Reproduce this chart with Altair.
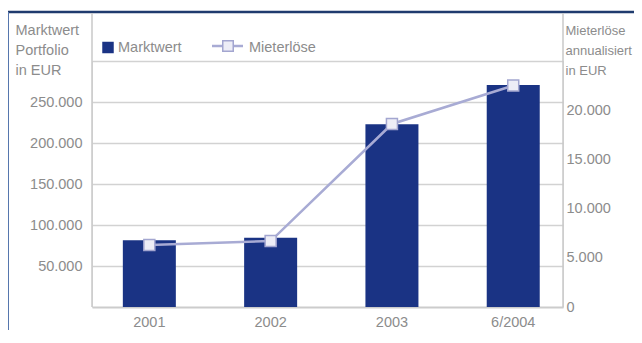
import altair as alt
import pandas as pd

categories = ["2001", "2002", "2003", "6/2004"]
marktwert = [81500, 84500, 223000, 270600]
mieterloese = [6300, 6700, 18600, 22500]
series_names = ["Marktwert", "Mieterlöse"]
left_ticks = [50000, 100000, 150000, 200000, 250000, 300000]
right_ticks = [0, 5000, 10000, 15000, 20000]
left_title = ["Marktwert", "Portfolio", "in EUR"]
right_title = ["Mieterlöse", "annualisiert", "in EUR"]

df = pd.DataFrame({"Jahr": categories, "Marktwert": marktwert, "Mieterloese": mieterloese})

FONT = "Liberation Sans"
GRAY = "#8c8c8c"
FS = 14.5
BAR = "#1a3384"
LINE = "#a8abd4"
W, H = 471, 246

xscale = alt.Scale(domain=categories, paddingInner=0.563, paddingOuter=0.223, align=0.57)
xenc = alt.X("Jahr:N", sort=categories, title=None, scale=xscale,
             axis=alt.Axis(labelAngle=0, ticks=False, domainColor="#cccccc", domainWidth=2,
                           labelPadding=8, labelColor=GRAY, labelFontSize=FS, labelFont=FONT,
                           grid=False))

lab = "replace(format(datum.value, ','), ',', '.')"

bars = alt.Chart(df).mark_bar(color=BAR).encode(
    x=xenc,
    y=alt.Y("Marktwert:Q", scale=alt.Scale(domain=[0, 300000], nice=False),
            axis=alt.Axis(values=left_ticks, title=left_title, titleAngle=0, titleAlign="left",
                          titleBaseline="top", titleX=-77, titleY=-38, titleLineHeight=20,
                          titleFont=FONT, titleFontSize=FS, titleFontWeight="normal", titleColor=GRAY,
                          labelExpr="datum.value >= 300000 ? '' : " + lab,
                          labelColor=GRAY, labelFontSize=FS, labelFont=FONT, labelPadding=10,
                          ticks=False, domain=False, gridColor="#d2d2d2", gridWidth=1.5)),
)

yright = alt.Y("Mieterloese:Q", scale=alt.Scale(domain=[0, 25000], nice=False),
               axis=alt.Axis(orient="right", values=right_ticks, title=right_title, titleAngle=0,
                             titleAlign="left", titleBaseline="top", titleX=2, titleY=-37,
                             titleLineHeight=20, titleFont=FONT, titleFontSize=13,
                             titleFontWeight="normal", titleColor=GRAY,
                             labelExpr=lab, labelColor=GRAY, labelFontSize=FS, labelFont=FONT,
                             labelPadding=3, ticks=False, domain=False,
                             gridColor="#f3f3f3", gridWidth=1.5))

line = alt.Chart(df).mark_line(color=LINE, strokeWidth=2.5).encode(
    x=alt.X("Jahr:N", sort=categories, scale=xscale), y=yright)
points = alt.Chart(df).mark_point(shape="square", filled=True, size=121, fill="#ededf6",
                                  stroke="#a3a6d0", strokeWidth=1.5, opacity=1).encode(
    x=alt.X("Jahr:N", sort=categories, scale=xscale), y=yright)
line_layer = alt.layer(line, points)

one = pd.DataFrame({"a": [0]})
def rule(x, x2, y, y2, color, w):
    return alt.Chart(one).mark_rule(color=color, strokeWidth=w).encode(
        x=alt.value(x), x2=alt.value(x2), y=alt.value(y), y2=alt.value(y2))

top_line = rule(-85, 560, -49, -49, "#1f3b6e", 2.5)
left_line = rule(-84, -84, -49, 280, "#5676ad", 2)
vl = rule(0, 0, -48, 246, "#c8c8c8", 1.5)
vr = rule(W, W, -48, 246, "#c8c8c8", 1.5)

leg_df = pd.DataFrame({"name": series_names})
leg_sq = alt.Chart(one).mark_square(color=BAR, size=132, opacity=1).encode(
    x=alt.value(16), y=alt.value(-13.5))
leg_t1 = alt.Chart(leg_df.iloc[[0]]).mark_text(align="left", baseline="middle", font=FONT,
                                               fontSize=FS, color=GRAY).encode(
    x=alt.value(26), y=alt.value(-13), text="name:N")
leg_line = rule(120, 151, -15, -15, LINE, 2.5)
leg_pt = alt.Chart(one).mark_point(shape="square", filled=True, size=110, fill="#ededf6",
                                   stroke="#a3a6d0", strokeWidth=1.5, opacity=1).encode(
    x=alt.value(136), y=alt.value(-15))
leg_t2 = alt.Chart(leg_df.iloc[[1]]).mark_text(align="left", baseline="middle", font=FONT,
                                               fontSize=FS, color=GRAY).encode(
    x=alt.value(157), y=alt.value(-13), text="name:N")

chart = alt.layer(
    bars, line_layer, top_line, left_line, vl, vr,
    leg_sq, leg_t1, leg_line, leg_pt, leg_t2
).resolve_scale(y="independent").properties(
    width=W, height=H,
    autosize=alt.AutoSizeParams(type="none"),
    padding={"left": 84, "top": 53, "right": 71, "bottom": 23},
).configure_view(stroke=None).configure(background="white")

chart.save("out.html", embed_options={"renderer": "svg", "actions": False})
